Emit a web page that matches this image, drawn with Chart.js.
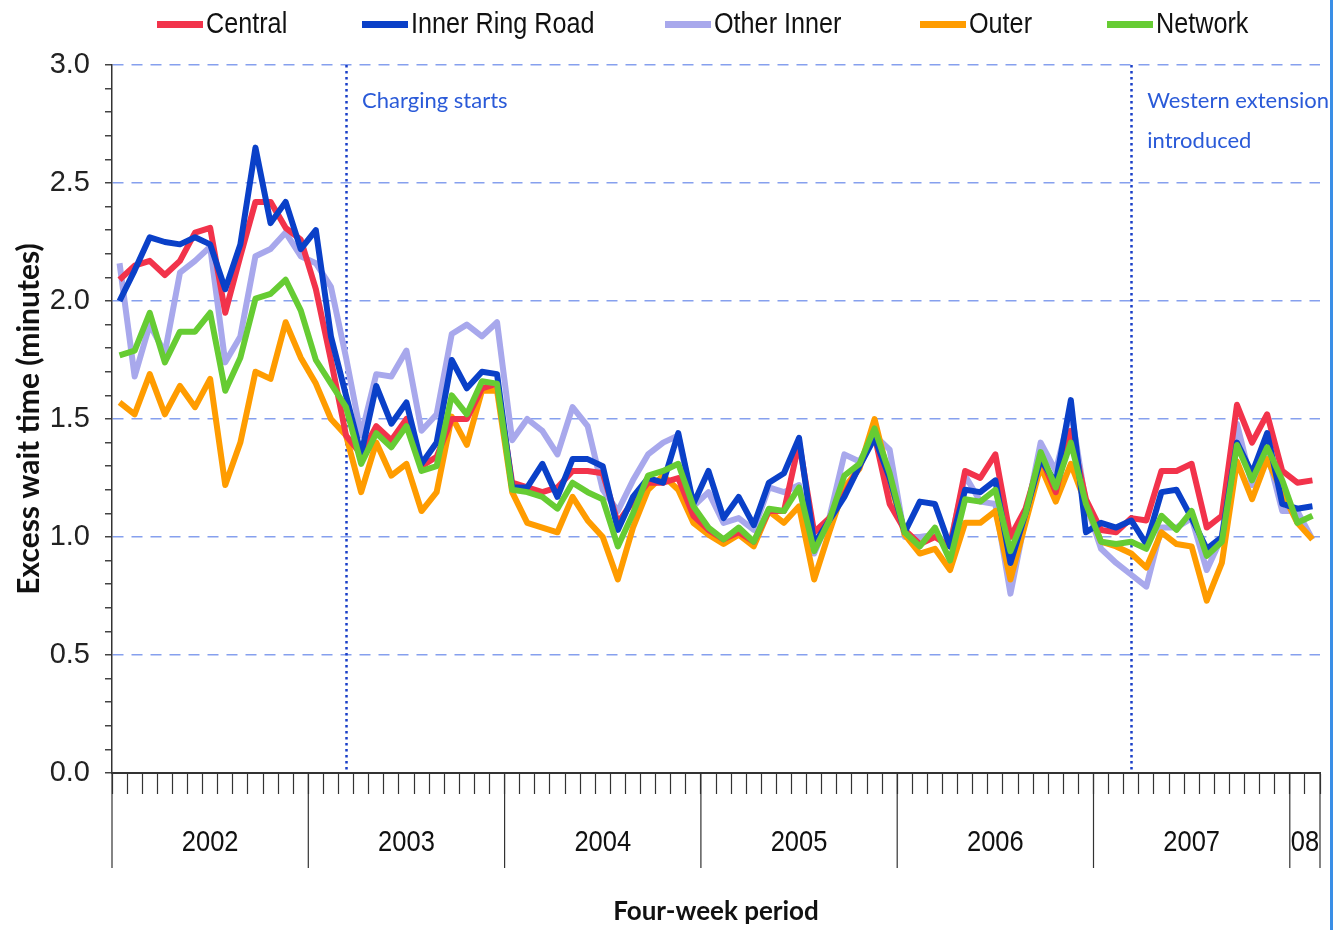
<!DOCTYPE html>
<html>
<head>
<meta charset="utf-8">
<script src="https://cdn.jsdelivr.net/npm/chart.js@4.4.0/dist/chart.umd.min.js"></script>
<style>
  html, body { margin: 0; padding: 0; background: #fff; }
  #wrap { position: relative; width: 1333px; height: 930px; }
  #edge { position: absolute; left: 1330px; top: 0; width: 3px; height: 930px; background: #3a8ee6; }
</style>
</head>
<body>
<div id="wrap"><canvas id="chart"></canvas><div id="edge"></div></div>
<script>
// four-week periods per year (2008 only partly shown)
const years = [2002, 2003, 2004, 2005, 2006, 2007, 2008];
const yearLabels = ["2002", "2003", "2004", "2005", "2006", "2007", "08"];
const periodsPerYear = [13, 13, 13, 13, 13, 13, 2];

const central = [
  2.09, 2.15, 2.17, 2.11, 2.17, 2.29, 2.31, 1.95, 2.19, 2.42, 2.42, 2.31, 2.26,
  2.05, 1.75, 1.43, 1.35, 1.47, 1.41, 1.50, 1.30, 1.34, 1.50, 1.50, 1.63, 1.65,
  1.23, 1.21, 1.19, 1.21, 1.28, 1.28, 1.27, 1.06, 1.15, 1.23, 1.23, 1.25, 1.09,
  1.03, 0.99, 1.02, 0.98, 1.11, 1.11, 1.40, 1.02, 1.08, 1.18, 1.30, 1.43, 1.14,
  1.03, 0.97, 1.00, 0.96, 1.28, 1.25, 1.35, 1.00, 1.12, 1.34, 1.19, 1.45, 1.16,
  1.03, 1.02, 1.08, 1.07, 1.28, 1.28, 1.31, 1.04, 1.09, 1.56, 1.40, 1.52, 1.28,
  1.23, 1.24
];
const innerRingRoad = [
  2.00, 2.13, 2.27, 2.25, 2.24, 2.27, 2.24, 2.05, 2.24, 2.65, 2.33, 2.42, 2.22,
  2.30, 1.85, 1.60, 1.35, 1.64, 1.48, 1.57, 1.31, 1.40, 1.75, 1.63, 1.70, 1.69,
  1.21, 1.21, 1.31, 1.17, 1.33, 1.33, 1.30, 1.03, 1.17, 1.25, 1.23, 1.44, 1.14,
  1.28, 1.08, 1.17, 1.05, 1.23, 1.27, 1.42, 0.97, 1.07, 1.17, 1.30, 1.42, 1.25,
  1.02, 1.15, 1.14, 0.96, 1.20, 1.19, 1.24, 0.89, 1.10, 1.33, 1.23, 1.58, 1.02,
  1.06, 1.04, 1.07, 0.97, 1.19, 1.20, 1.08, 0.95, 1.00, 1.40, 1.27, 1.44, 1.14,
  1.12, 1.13
];
const otherInner = [
  2.16, 1.68, 1.90, 1.78, 2.12, 2.17, 2.23, 1.74, 1.85, 2.19, 2.22, 2.29, 2.19,
  2.16, 2.06, 1.76, 1.43, 1.69, 1.68, 1.79, 1.45, 1.52, 1.86, 1.90, 1.85, 1.91,
  1.41, 1.50, 1.45, 1.35, 1.55, 1.47, 1.20, 1.11, 1.24, 1.35, 1.40, 1.43, 1.13,
  1.19, 1.06, 1.08, 1.03, 1.21, 1.19, 1.22, 0.93, 1.08, 1.35, 1.32, 1.43, 1.37,
  1.00, 1.00, 1.01, 0.97, 1.26, 1.15, 1.14, 0.76, 1.08, 1.40, 1.28, 1.54, 1.14,
  0.95, 0.89, 0.84, 0.79, 1.04, 1.04, 1.08, 0.86, 1.00, 1.48, 1.22, 1.36, 1.11,
  1.11, 0.99
];
const outer = [
  1.57, 1.52, 1.69, 1.52, 1.64, 1.55, 1.67, 1.22, 1.40, 1.70, 1.67, 1.91, 1.76,
  1.65, 1.50, 1.43, 1.19, 1.40, 1.26, 1.31, 1.11, 1.19, 1.51, 1.39, 1.62, 1.62,
  1.19, 1.06, 1.04, 1.02, 1.17, 1.07, 1.00, 0.82, 1.04, 1.20, 1.26, 1.20, 1.06,
  1.01, 0.97, 1.01, 0.96, 1.11, 1.06, 1.13, 0.82, 1.02, 1.21, 1.29, 1.50, 1.24,
  1.01, 0.93, 0.95, 0.86, 1.06, 1.06, 1.11, 0.82, 1.06, 1.30, 1.15, 1.31, 1.14,
  0.98, 0.96, 0.93, 0.87, 1.02, 0.97, 0.96, 0.73, 0.89, 1.32, 1.16, 1.33, 1.19,
  1.06, 0.99
];
const network = [
  1.77, 1.79, 1.95, 1.74, 1.87, 1.87, 1.95, 1.62, 1.76, 2.01, 2.03, 2.09, 1.96,
  1.75, 1.65, 1.55, 1.31, 1.44, 1.38, 1.47, 1.28, 1.30, 1.60, 1.52, 1.66, 1.65,
  1.20, 1.19, 1.17, 1.12, 1.23, 1.19, 1.16, 0.96, 1.10, 1.26, 1.28, 1.31, 1.13,
  1.04, 0.99, 1.04, 0.98, 1.12, 1.11, 1.21, 0.94, 1.07, 1.26, 1.31, 1.46, 1.27,
  1.02, 0.96, 1.04, 0.90, 1.16, 1.15, 1.20, 0.94, 1.10, 1.36, 1.21, 1.40, 1.14,
  0.98, 0.97, 0.98, 0.95, 1.09, 1.03, 1.11, 0.92, 0.98, 1.39, 1.24, 1.38, 1.24,
  1.06, 1.09
];

// events marked with a dotted line (period index)
const eventPeriods = [15, 67];
const eventTexts = [["Charging starts"], ["Western extension", "introduced"]];

const periodLabels = [];
years.forEach((y, i) => {
  for (let p = 1; p <= periodsPerYear[i]; p++) periodLabels.push(y + " P" + p);
});

const plain = "'Liberation Sans', Arial, sans-serif";
const humanist = "Lato, 'Open Sans', sans-serif";
const legendX = [157, 362, 665, 920, 1107];

function isMajor(v) {
  return Math.abs(v * 2 - Math.round(v * 2)) < 1e-6;
}

// condensed text: the original uses a narrow face
function narrowText(ctx, text, x, y, align, squeeze) {
  ctx.save();
  ctx.translate(x, y);
  ctx.scale(squeeze, 1);
  ctx.textAlign = align;
  ctx.fillText(text, 0, 0);
  ctx.restore();
}

const decorations = {
  id: "decorations",
  beforeDatasetsDraw(chart) {
    const { ctx, chartArea, scales: { x } } = chart;
    ctx.save();
    ctx.strokeStyle = "#1a3fc8";
    ctx.lineWidth = 2.5;
    ctx.setLineDash([2.5, 3.5]);
    eventPeriods.forEach((p) => {
      const px = Math.round(x.getPixelForValue(p)) + 0.5;
      ctx.beginPath();
      ctx.moveTo(px, chartArea.top);
      ctx.lineTo(px, chartArea.bottom);
      ctx.stroke();
    });
    ctx.setLineDash([]);
    ctx.fillStyle = "#2a5ad8";
    ctx.font = "22px " + humanist;
    ctx.textBaseline = "middle";
    eventPeriods.forEach((p, i) => {
      const px = x.getPixelForValue(p);
      eventTexts[i].forEach((t, j) => ctx.fillText(t, px + 16, 101 + j * 40));
    });
    ctx.restore();
  },
  afterDraw(chart) {
    const { ctx, chartArea, scales: { x } } = chart;
    const step = x.getPixelForValue(1) - x.getPixelForValue(0);
    const edge = (k) => x.getPixelForValue(0) - step / 2 + k * step;

    // year boundaries and labels
    ctx.save();
    ctx.strokeStyle = "#333";
    ctx.lineWidth = 1.2;
    ctx.fillStyle = "#111";
    ctx.font = "30px " + plain;
    ctx.textBaseline = "middle";
    let k = 0;
    const line = (px) => {
      ctx.beginPath();
      ctx.moveTo(px, chartArea.bottom);
      ctx.lineTo(px, chartArea.bottom + 95);
      ctx.stroke();
    };
    line(edge(0));
    periodsPerYear.forEach((n, i) => {
      const a = edge(k);
      k += n;
      const b = edge(k);
      line(b);
      narrowText(ctx, yearLabels[i], (a + b) / 2, 843, "center", 0.85);
    });

    // legend
    chart.data.datasets.forEach((ds, i) => {
      const lx = legendX[i];
      ctx.fillStyle = ds.borderColor;
      ctx.fillRect(lx, 21, 46, 7);
      ctx.fillStyle = "#111";
      narrowText(ctx, ds.label, lx + 49, 25, "left", 0.84);
    });
    ctx.restore();
  }
};

const series = [
  { label: "Central", data: central, color: "#f2334b", order: 3 },
  { label: "Inner Ring Road", data: innerRingRoad, color: "#0a40c8", order: 2 },
  { label: "Other Inner", data: otherInner, color: "#a8a8ec", order: 5 },
  { label: "Outer", data: outer, color: "#ff9c00", order: 4 },
  { label: "Network", data: network, color: "#66cc33", order: 1 }
];

new Chart(document.getElementById("chart"), {
  type: "line",
  data: {
    labels: periodLabels,
    datasets: series.map((s) => ({
      label: s.label,
      data: s.data,
      borderColor: s.color,
      backgroundColor: s.color,
      borderWidth: 6,
      pointRadius: 0,
      tension: 0,
      borderJoinStyle: "round",
      order: s.order
    }))
  },
  options: {
    responsive: true,
    maintainAspectRatio: false,
    animation: false,
    devicePixelRatio: 1,
    layout: { padding: { top: 65, right: 13, bottom: 0, left: 0 } },
    plugins: { legend: { display: false }, tooltip: { enabled: false } },
    scales: {
      x: {
        offset: true,
        grid: {
          offset: true,
          drawOnChartArea: false,
          tickLength: 21,
          tickColor: "#333",
          tickWidth: 1.2
        },
        border: { color: "#333", width: 2 },
        ticks: { display: false, autoSkip: false },
        title: {
          display: true,
          text: "Four-week period",
          font: { family: humanist, size: 26, weight: "bold" },
          color: "#111",
          padding: { top: 0, bottom: 3 }
        },
        afterFit: (scale) => { scale.height = 157; }
      },
      y: {
        min: 0,
        max: 3,
        ticks: {
          stepSize: 0.1,
          autoSkip: false,
          padding: 15,
          color: "#222",
          font: { family: plain, size: 29 },
          callback: (v) => (isMajor(v) ? v.toFixed(1) : "")
        },
        grid: {
          color: (c) => (isMajor(c.tick.value) && c.tick.value > 0 ? "#86a0ee" : "rgba(0,0,0,0)"),
          lineWidth: 1.5,
          tickLength: 7,
          tickColor: "#444",
          tickWidth: 1.5,
          tickBorderDash: []
        },
        border: { color: "#333", width: 1.5, dash: [11, 8] },
        title: {
          display: true,
          text: "Excess wait time (minutes)",
          font: { family: humanist, size: 30, weight: "bold" },
          color: "#111",
          padding: { top: 11, bottom: 0 }
        },
        afterFit: (scale) => { scale.width = 112; }
      }
    }
  },
  plugins: [decorations]
});
</script>
</body>
</html>
